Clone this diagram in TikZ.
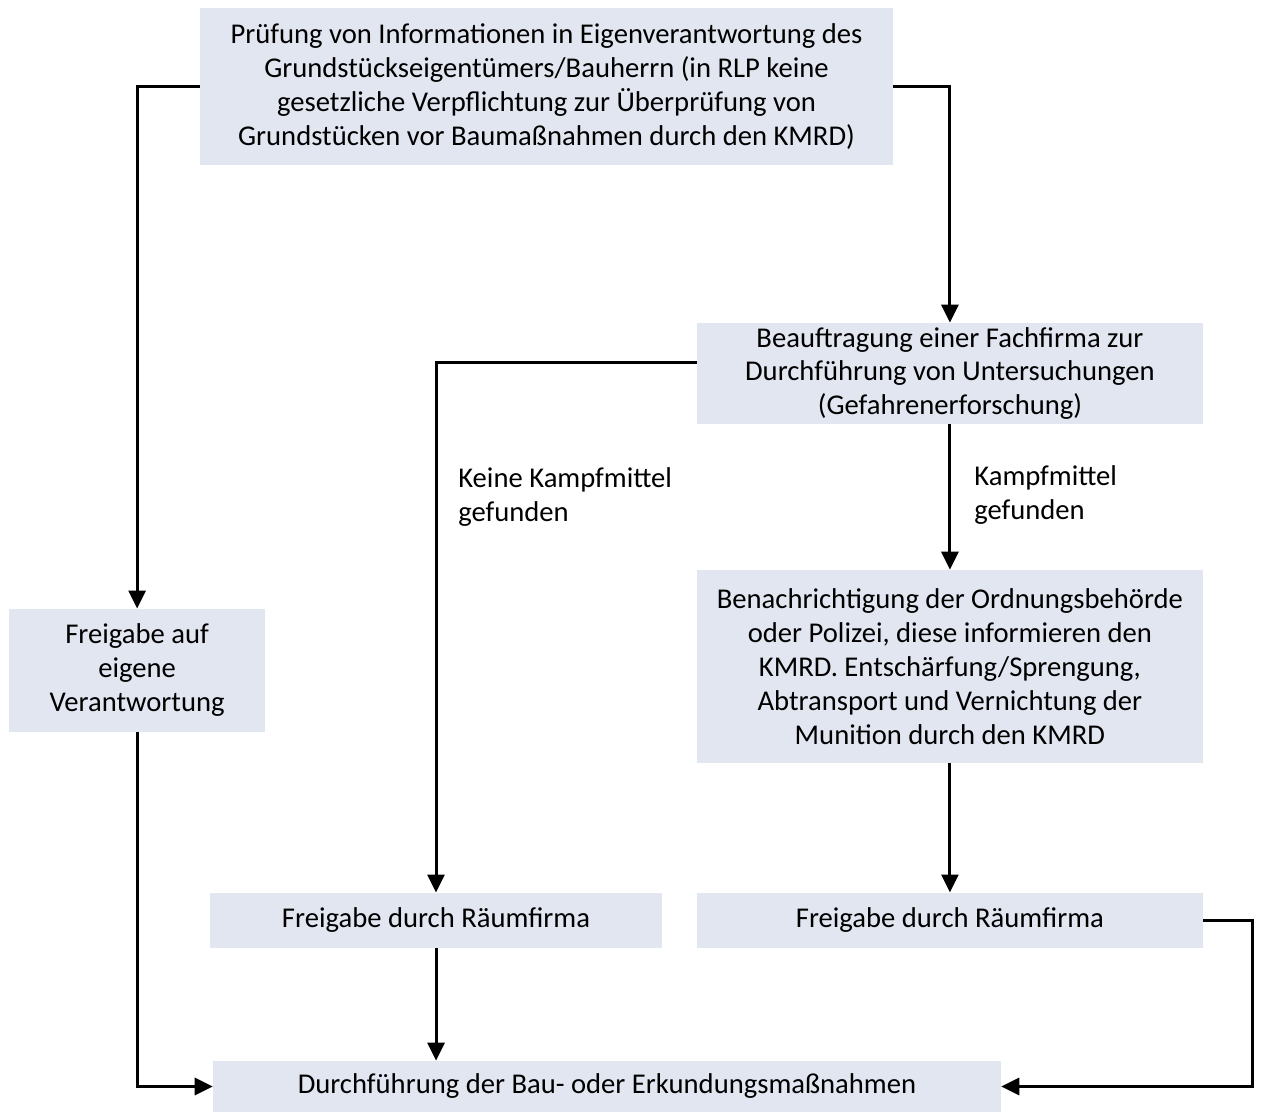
\documentclass[tikz,border=0pt]{standalone}
\usepackage{fontspec}
\setmainfont{Carlito}
\usetikzlibrary{positioning, arrows.meta}
\definecolor{boxfill}{HTML}{E2E6F1}

\begin{document}
\begin{tikzpicture}[x=0.02cm, y=-0.02cm, on grid,
    box/.style={fill=boxfill, align=center, inner sep=0pt,
        font=\fontsize{16.3}{19.3}\selectfont},
    lbl/.style={align=left, inner sep=0pt, anchor=west,
        font=\fontsize{16.3}{19.3}\selectfont},
    line/.style={line width=1.7pt, -{Triangle[length=0.36cm, width=0.34cm]}}]
    \useasboundingbox (0,0) rectangle (1261,1112);

    \node[box, minimum width=13.86cm, minimum height=3.14cm] (pruef) at (546.5,86.5)
        {Prüfung von Informationen in Eigenverantwortung des\\
         Grundstückseigentümers/Bauherrn (in RLP keine\\
         gesetzliche Verpflichtung zur Überprüfung von\\
         Grundstücken vor Baumaßnahmen durch den KMRD)};
    \node[box, minimum width=10.12cm, minimum height=2.02cm] (beauf) [below right=5.74cm and 8.07cm of pruef]
        {Beauftragung einer Fachfirma zur\\
         Durchführung von Untersuchungen\\
         (Gefahrenerforschung)};
    \node[box, minimum width=10.12cm, minimum height=3.86cm] (benach) [below=5.86cm of beauf]
        {Benachrichtigung der Ordnungsbehörde\\
         oder Polizei, diese informieren den\\
         KMRD. Entschärfung/Sprengung,\\
         Abtransport und Vernichtung der\\
         Munition durch den KMRD};
    \node[box, minimum width=10.12cm, minimum height=1.1cm] (raumR) [below=5.08cm of benach]
        {Freigabe durch Räumfirma};
    \node[box, minimum width=9.04cm, minimum height=1.1cm] (raumL) [left=10.28cm of raumR]
        {Freigabe durch Räumfirma};
    \node[box, minimum width=5.12cm, minimum height=2.46cm] (eigen) [below left=11.68cm and 8.19cm of pruef]
        {Freigabe auf\\ eigene\\ Verantwortung};
    \node[box, minimum width=15.76cm, minimum height=1.02cm] (durch) at (607,1086.5)
        {Durchführung der Bau- oder Erkundungsmaßnahmen};

    \node[lbl] (keine) at (458,497) {Keine Kampfmittel\\ gefunden};
    \node[lbl] (gef) at (974,495) {Kampfmittel\\ gefunden};

    % connectors
    \draw[line] (pruef.west) -| (eigen.north);
    \draw[line] (pruef.east) -| (beauf.north);
    \draw[line] ([yshift=0.22cm]beauf.west) -| (raumL.north);
    \draw[line] (beauf) -- (benach);
    \draw[line] (benach) -- (raumR);
    \draw[line] (raumL) -- (durch.north -| raumL.south);
    \draw[line] (eigen.south) |- (durch.west);
    \draw[line] (raumR.east) -- ++(49,0) |- (durch.east);
\end{tikzpicture}
\end{document}
